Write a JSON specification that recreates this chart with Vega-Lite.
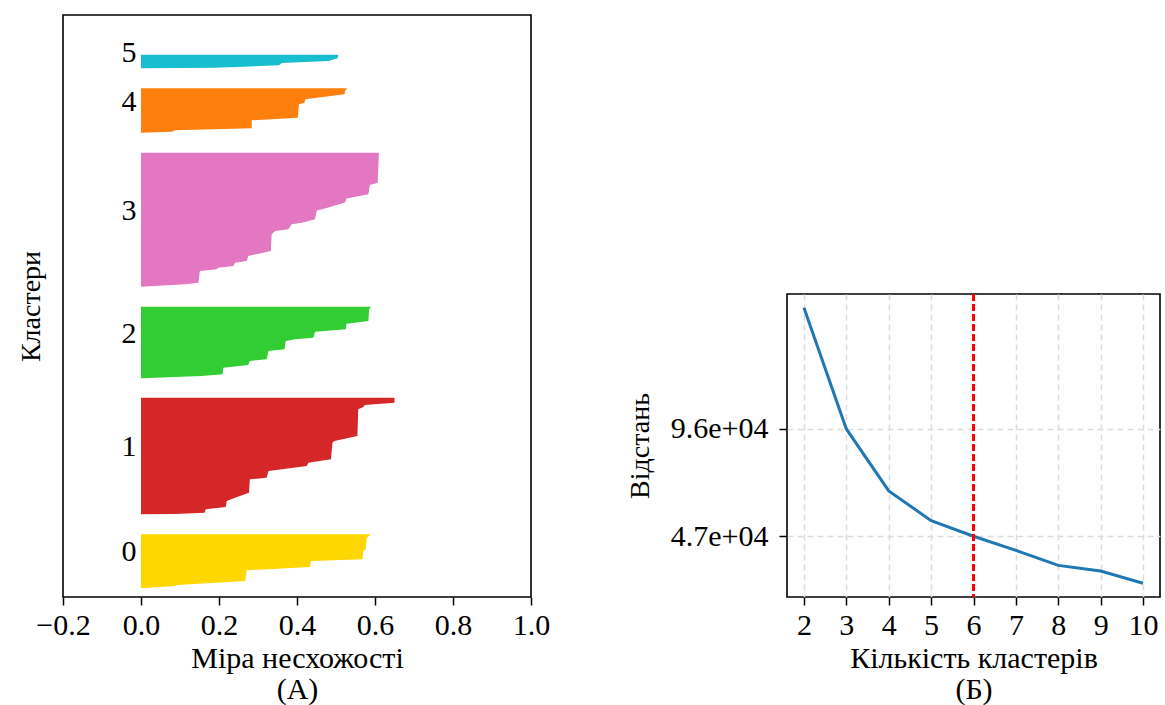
{
  "$schema": "https://vega.github.io/schema/vega-lite/v6.json",
  "padding": {"left": 16, "top": 14, "right": 0, "bottom": 0},
  "bounds": "flush",
  "spacing": 256,
  "datasets": {
    "sil": [
      {"c": "0", "u": 4.35, "v": 0},
      {"c": "0", "u": 5.5, "v": 0.087},
      {"c": "0", "u": 6, "v": 0.092},
      {"c": "0", "u": 8, "v": 0.267},
      {"c": "0", "u": 13.35, "v": 0.271},
      {"c": "0", "u": 15, "v": 0.433},
      {"c": "0", "u": 18, "v": 0.436},
      {"c": "0", "u": 18.85, "v": 0.568},
      {"c": "0", "u": 23, "v": 0.57},
      {"c": "0", "u": 23.85, "v": 0.576},
      {"c": "0", "u": 29.65, "v": 0.579},
      {"c": "0", "u": 31.35, "v": 0.59},
      {"c": "1", "u": 41.35, "v": 0},
      {"c": "1", "u": 41.5, "v": 0.087},
      {"c": "1", "u": 42.15, "v": 0.163},
      {"c": "1", "u": 43.85, "v": 0.166},
      {"c": "1", "u": 45, "v": 0.217},
      {"c": "1", "u": 48, "v": 0.22},
      {"c": "1", "u": 49.65, "v": 0.241},
      {"c": "1", "u": 52.15, "v": 0.277},
      {"c": "1", "u": 58.85, "v": 0.279},
      {"c": "1", "u": 59.65, "v": 0.322},
      {"c": "1", "u": 63, "v": 0.327},
      {"c": "1", "u": 65.5, "v": 0.425},
      {"c": "1", "u": 67.15, "v": 0.429},
      {"c": "1", "u": 68.85, "v": 0.487},
      {"c": "1", "u": 77.15, "v": 0.491},
      {"c": "1", "u": 78, "v": 0.496},
      {"c": "1", "u": 80.5, "v": 0.555},
      {"c": "1", "u": 93.85, "v": 0.557},
      {"c": "1", "u": 95, "v": 0.57},
      {"c": "1", "u": 96, "v": 0.574},
      {"c": "1", "u": 97.15, "v": 0.65},
      {"c": "1", "u": 99.65, "v": 0.65},
      {"c": "2", "u": 109.35, "v": 0},
      {"c": "2", "u": 110.5, "v": 0.156},
      {"c": "2", "u": 111.35, "v": 0.209},
      {"c": "2", "u": 114.65, "v": 0.211},
      {"c": "2", "u": 116, "v": 0.275},
      {"c": "2", "u": 118, "v": 0.279},
      {"c": "2", "u": 118.85, "v": 0.322},
      {"c": "2", "u": 123, "v": 0.327},
      {"c": "2", "u": 123.85, "v": 0.368},
      {"c": "2", "u": 128, "v": 0.371},
      {"c": "2", "u": 128.85, "v": 0.395},
      {"c": "2", "u": 129.65, "v": 0.442},
      {"c": "2", "u": 132.65, "v": 0.446},
      {"c": "2", "u": 133.85, "v": 0.525},
      {"c": "2", "u": 136.65, "v": 0.527},
      {"c": "2", "u": 138, "v": 0.583},
      {"c": "2", "u": 143.85, "v": 0.585},
      {"c": "2", "u": 145.15, "v": 0.59},
      {"c": "3", "u": 155.15, "v": 0},
      {"c": "3", "u": 156.35, "v": 0.113},
      {"c": "3", "u": 157.15, "v": 0.147},
      {"c": "3", "u": 163, "v": 0.151},
      {"c": "3", "u": 163.85, "v": 0.194},
      {"c": "3", "u": 164.65, "v": 0.198},
      {"c": "3", "u": 165.5, "v": 0.237},
      {"c": "3", "u": 167.15, "v": 0.241},
      {"c": "3", "u": 168, "v": 0.271},
      {"c": "3", "u": 170.5, "v": 0.275},
      {"c": "3", "u": 173, "v": 0.333},
      {"c": "3", "u": 181.35, "v": 0.335},
      {"c": "3", "u": 183, "v": 0.344},
      {"c": "3", "u": 183.85, "v": 0.378},
      {"c": "3", "u": 186.35, "v": 0.386},
      {"c": "3", "u": 187.15, "v": 0.412},
      {"c": "3", "u": 188.85, "v": 0.446},
      {"c": "3", "u": 193.25, "v": 0.451},
      {"c": "3", "u": 194.5, "v": 0.476},
      {"c": "3", "u": 197.25, "v": 0.523},
      {"c": "3", "u": 199.25, "v": 0.527},
      {"c": "3", "u": 201.35, "v": 0.583},
      {"c": "3", "u": 206, "v": 0.587},
      {"c": "3", "u": 207.15, "v": 0.607},
      {"c": "3", "u": 222.15, "v": 0.61},
      {"c": "4", "u": 232.15, "v": 0},
      {"c": "4", "u": 232.65, "v": 0.079},
      {"c": "4", "u": 233.35, "v": 0.087},
      {"c": "4", "u": 234.35, "v": 0.284},
      {"c": "4", "u": 238.35, "v": 0.284},
      {"c": "4", "u": 239.65, "v": 0.402},
      {"c": "4", "u": 246.35, "v": 0.405},
      {"c": "4", "u": 247.15, "v": 0.419},
      {"c": "4", "u": 248.85, "v": 0.421},
      {"c": "4", "u": 251.35, "v": 0.522},
      {"c": "4", "u": 253, "v": 0.523},
      {"c": "4", "u": 254.35, "v": 0.529},
      {"c": "5", "u": 264.35, "v": 0},
      {"c": "5", "u": 264.65, "v": 0.19},
      {"c": "5", "u": 265.85, "v": 0.354},
      {"c": "5", "u": 267, "v": 0.361},
      {"c": "5", "u": 268, "v": 0.481},
      {"c": "5", "u": 269.35, "v": 0.504},
      {"c": "5", "u": 271.15, "v": 0.506}
    ],
    "labels": [
      {"c": "0", "u": 17.85},
      {"c": "1", "u": 70.5},
      {"c": "2", "u": 127.25},
      {"c": "3", "u": 188.65},
      {"c": "4", "u": 243.25},
      {"c": "5", "u": 267.75}
    ],
    "elbow": [
      {"k": 2, "d": 151350},
      {"k": 3, "d": 96000},
      {"k": 4, "d": 67730},
      {"k": 5, "d": 54120},
      {"k": 6, "d": 47000},
      {"k": 7, "d": 40510},
      {"k": 8, "d": 33700},
      {"k": 9, "d": 31120},
      {"k": 10, "d": 25540}
    ]
  },
  "hconcat": [
    {
      "width": 468,
      "height": 582,
      "layer": [
        {
          "data": {"name": "sil"},
          "mark": {"type": "area", "orient": "horizontal", "interpolate": "linear"},
          "encoding": {
            "y": {
              "field": "u", "type": "quantitative",
              "scale": {"domain": [0, 291], "nice": false, "zero": false},
              "axis": {"title": "Кластери", "titleFontSize": 28, "labels": false, "ticks": false, "grid": false, "titlePadding": 18}
            },
            "x": {
              "field": "v", "type": "quantitative",
              "scale": {"domain": [-0.2, 1.0], "nice": false, "zero": false},
              "axis": {"title": ["Міра несхожості", "(А)"], "values": [-0.2, 0, 0.2, 0.4, 0.6, 0.8, 1.0], "format": ".1f", "grid": false, "labelPadding": 5, "titlePadding": 3}
            },
            "x2": {"datum": 0},
            "color": {
              "field": "c", "type": "nominal",
              "scale": {"domain": ["0", "1", "2", "3", "4", "5"], "range": ["#ffd700", "#d62728", "#32cd32", "#e377c2", "#ff7f0e", "#17becf"]},
              "legend": null
            }
          }
        },
        {
          "data": {"name": "labels"},
          "mark": {"type": "text", "align": "left", "baseline": "alphabetic", "font": "Liberation Serif", "fontSize": 30, "color": "black"},
          "encoding": {
            "x": {"datum": -0.05, "type": "quantitative"},
            "y": {"field": "u", "type": "quantitative"},
            "text": {"field": "c"}
          }
        },
        {
          "mark": {"type": "rule", "color": "#ff0000", "strokeWidth": 3, "strokeDash": [10, 5]},
          "encoding": {"x": {"datum": 0.402, "type": "quantitative"}}
        }
      ]
    },
    {
      "bounds": "flush",
      "spacing": 0,
      "vconcat": [
        {
          "width": 10,
          "height": 279,
          "view": {"stroke": null},
          "data": {"values": [{"t": ""}]},
          "mark": {"type": "text"},
          "encoding": {"text": {"field": "t"}}
        },
        {
          "width": 373,
          "height": 303,
          "data": {"name": "elbow"},
          "layer": [
            {
              "mark": {"type": "line", "color": "#1f77b4", "strokeWidth": 3},
              "encoding": {
                "x": {
                  "field": "k", "type": "quantitative",
                  "scale": {"domain": [1.6, 10.4], "nice": false, "zero": false},
                  "axis": {"title": ["Кількість кластерів", "(Б)"], "values": [2, 3, 4, 5, 6, 7, 8, 9, 10], "format": "d", "grid": true, "labelPadding": 5, "titlePadding": 3}
                },
                "y": {
                  "field": "d", "type": "quantitative",
                  "scale": {"domain": [19250, 157640], "nice": false, "zero": false},
                  "axis": {"title": "Відстань", "titleFontSize": 28, "values": [96000, 47000], "labelExpr": "datum.value > 70000 ? '9.6e+04' : '4.7e+04'", "grid": true, "labelPadding": 11, "titlePadding": 16}
                }
              }
            },
            {
              "mark": {"type": "rule", "color": "#ff0000", "strokeWidth": 2.2, "strokeDash": [7, 3]},
              "encoding": {"x": {"datum": 6, "type": "quantitative"}}
            }
          ]
        }
      ]
    }
  ],
  "config": {
    "font": "Liberation Serif",
    "view": {"stroke": "black", "strokeWidth": 1.6},
    "axis": {
      "labelFont": "Liberation Serif",
      "titleFont": "Liberation Serif",
      "labelFontSize": 30,
      "titleFontSize": 30,
      "titleFontWeight": "normal",
      "labelColor": "black",
      "titleColor": "black",
      "tickColor": "black",
      "tickWidth": 1.5,
      "tickSize": 8,
      "domain": false,
      "labelFlush": false,
      "labelOverlap": false,
      "titleLineHeight": 31,
      "gridColor": "#dcdcdc",
      "gridDash": [6, 4],
      "gridWidth": 1.5
    }
  }
}
